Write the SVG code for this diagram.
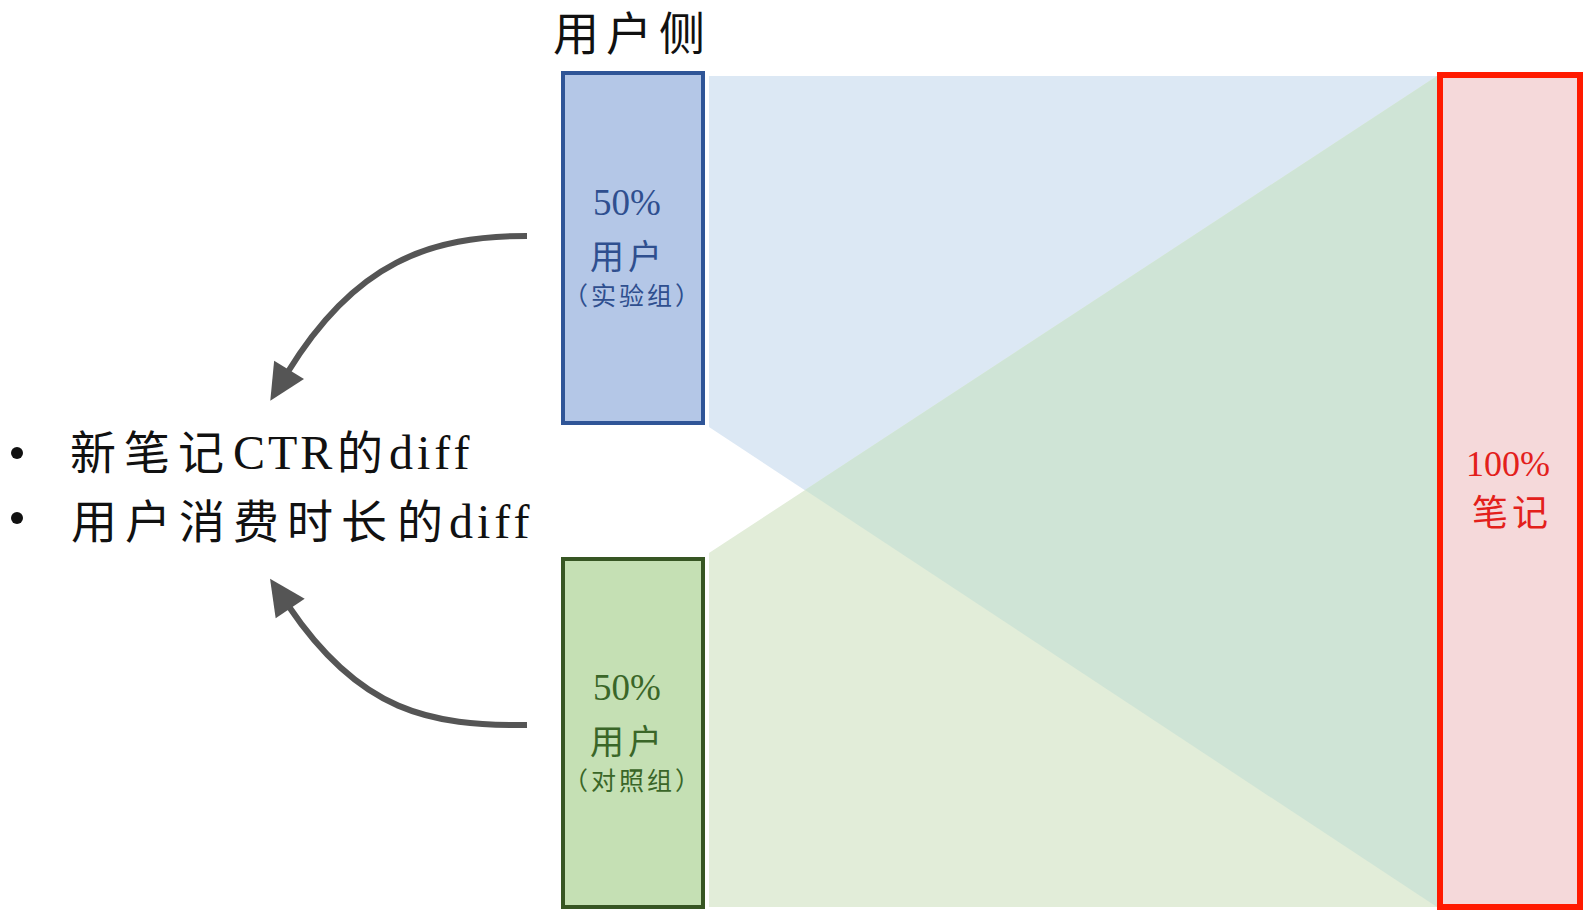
<svg xmlns="http://www.w3.org/2000/svg" width="1588" height="916" viewBox="0 0 1588 916">
  <defs>
    <style>
      .t { font-family: "Liberation Serif", "Noto Sans CJK SC", serif; }
      .blue { fill: #2f4f8f; }
      .green { fill: #3a6628; }
      .red { fill: #e3201b; }
      .lat { font-size: 48px; }
      .arrow { fill: none; stroke: #555555; stroke-width: 6; marker-end: url(#ah); }
    </style>
    <marker id="ah" markerUnits="userSpaceOnUse" viewBox="-4 -20 40 40" markerWidth="40" markerHeight="40" refX="0" refY="0" orient="auto">
      <path d="M-3,-17.5 L33,0 L-3,17.5 Z" fill="#555555"/>
    </marker>
  </defs>
  <rect width="1588" height="916" fill="#ffffff"/>

  <g id="fans">
    <polygon points="709,76 1437,76 1437,907 709,427" fill="#dce8f4"/>
    <polygon points="709,553 1437,76 1437,907 709,907" fill="#e2edd9"/>
    <polygon points="805,490 1437,76 1437,907" fill="#cfe4d6"/>
  </g>

  <g id="title">
    <text class="t" x="553" y="50" font-size="46" letter-spacing="7" fill="#111111">用户侧</text>
  </g>

  <g id="node-treatment">
    <rect x="563" y="73" width="140" height="350" fill="#b4c7e7" stroke="#2f5597" stroke-width="4"/>
    <text class="t blue" x="627" y="215" font-size="37" text-anchor="middle">50%</text>
    <text class="t blue" x="628" y="269" font-size="34" letter-spacing="4" text-anchor="middle">用户</text>
    <text class="t blue" x="633" y="305" font-size="25" letter-spacing="3" text-anchor="middle">（实验组）</text>
  </g>

  <g id="node-control">
    <rect x="563" y="559" width="140" height="348" fill="#c5e0b4" stroke="#375623" stroke-width="4"/>
    <text class="t green" x="627" y="700" font-size="37" text-anchor="middle">50%</text>
    <text class="t green" x="628" y="754" font-size="34" letter-spacing="4" text-anchor="middle">用户</text>
    <text class="t green" x="633" y="790" font-size="25" letter-spacing="3" text-anchor="middle">（对照组）</text>
  </g>

  <g id="node-notes">
    <rect x="1440" y="75" width="140" height="832" fill="#f5d9da" stroke="#ff1a00" stroke-width="6"/>
    <text class="t red" x="1508" y="476" font-size="36" text-anchor="middle">100%</text>
    <text class="t red" x="1512" y="526" font-size="36" letter-spacing="4" text-anchor="middle">笔记</text>
  </g>

  <g id="node-metrics">
    <circle cx="17" cy="453" r="6" fill="#111111"/>
    <circle cx="17" cy="518" r="6" fill="#111111"/>
    <text class="t" y="469" font-size="46" fill="#111111">
      <tspan x="70" letter-spacing="8">新笔记</tspan><tspan class="lat" x="233" letter-spacing="3">CTR</tspan><tspan x="337">的</tspan><tspan class="lat" x="389" letter-spacing="4">diff</tspan>
    </text>
    <text class="t" y="538" font-size="46" fill="#111111">
      <tspan x="71" letter-spacing="8">用户消费时长</tspan><tspan x="397">的</tspan><tspan class="lat" x="449" letter-spacing="4">diff</tspan>
    </text>
  </g>

  <g id="connectors">
    <path class="arrow" d="M527,236 C430,236 355,262 287.5,372.5"/>
    <path class="arrow" d="M527,725 C430,726 360,712 288.5,606"/>
  </g>
</svg>
